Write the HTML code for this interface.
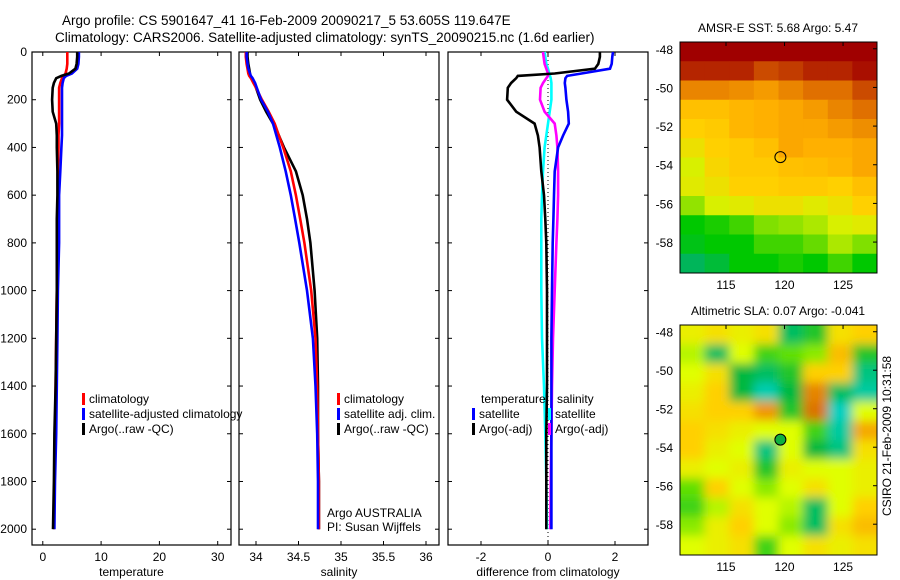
<!DOCTYPE html>
<html><head><meta charset="utf-8"><style>
body{margin:0;background:#fff;}
svg{display:block;font-family:"Liberation Sans",sans-serif;}
</style></head><body>
<svg id="chart" width="900" height="580">
<defs>
<clipPath id="c1"><rect x="680" y="42" width="197" height="231"/></clipPath>
<clipPath id="c2"><rect x="680" y="325" width="197" height="230"/></clipPath>
<filter id="blur"><feGaussianBlur stdDeviation="5"/></filter>
</defs>
<g font-size="13.5" fill="#000">
<text x="62" y="25">Argo profile: CS 5901647_41 16-Feb-2009 20090217_5 53.605S 119.647E</text>
<text x="55" y="42">Climatology: CARS2006. Satellite-adjusted climatology: synTS_20090215.nc (1.6d earlier)</text>
</g>
<g id="plots"></g>
</svg>
<script>
// depth levels (m)
const depths=[0,20,50,70,90,100,110,130,150,200,250,300,350,400,500,600,700,800,1000,1200,1400,1600,1800,2000];
// temperature
const tempArgo=[5.9,5.9,5.8,5.6,4.5,3.2,2.3,1.9,1.7,1.6,1.7,2.3,2.4,2.4,2.5,2.5,2.4,2.4,2.4,2.3,2.2,2.0,1.9,1.75];
const tempClim=[4.2,4.2,4.2,4.1,3.9,3.6,3.3,3.0,2.8,2.8,2.8,2.8,2.7,2.7,2.6,2.6,2.5,2.5,2.4,2.3,2.2,2.1,2.0,1.9];
const tempSat=[6.2,6.2,6.1,5.9,5.0,4.0,3.6,3.4,3.3,3.3,3.3,3.3,3.3,3.2,3.0,2.8,2.8,2.8,2.6,2.5,2.4,2.3,2.1,2.0];
// salinity
const salArgo=[33.9,33.9,33.91,33.92,33.93,33.93,33.95,33.98,34.0,34.05,34.12,34.2,34.27,34.33,34.47,34.55,34.6,34.64,34.69,34.72,34.73,34.73,34.74,34.74];
const salClim=[33.88,33.88,33.89,33.9,33.91,33.92,33.94,33.97,34.0,34.07,34.15,34.22,34.27,34.32,34.41,34.47,34.52,34.57,34.65,34.70,34.72,34.73,34.74,34.74];
const salSat=[33.89,33.89,33.9,33.91,33.93,33.94,33.96,33.99,34.01,34.06,34.14,34.2,34.24,34.28,34.35,34.41,34.46,34.51,34.6,34.67,34.70,34.72,34.73,34.73];
// differences from climatology
const dTempArgo=[1.55,1.55,1.5,1.4,0.2,-0.9,-0.95,-1.1,-1.2,-1.22,-0.95,-0.4,-0.3,-0.25,-0.2,-0.12,-0.08,-0.05,-0.03,-0.03,-0.03,-0.05,-0.05,-0.05];
const dTempSat=[1.94,1.92,1.9,1.85,1.0,0.57,0.52,0.5,0.52,0.55,0.6,0.62,0.45,0.3,0.2,0.18,0.16,0.14,0.12,0.1,0.1,0.1,0.1,0.1];
const dSalArgo=[-0.15,-0.13,-0.1,-0.05,0,0,-0.05,-0.15,-0.22,-0.24,-0.1,0.2,0.25,0.28,0.3,0.3,0.28,0.25,0.2,0.15,0.12,0.1,0.08,0.07];
const dSalSat=[-0.1,-0.08,-0.05,0,0.04,0.06,0.08,0.1,0.1,0.1,0.05,0,-0.05,-0.1,-0.15,-0.18,-0.2,-0.2,-0.2,-0.18,-0.12,-0.08,-0.05,-0.03];
// map grids
const sstGrid=[
[1,1,1,1,1,1,1,1],
[0.95,0.95,0.95,0.9,0.92,0.95,0.95,0.98],
[0.8,0.8,0.78,0.75,0.8,0.85,0.85,0.9],
[0.65,0.65,0.68,0.7,0.72,0.75,0.8,0.85],
[0.6,0.62,0.68,0.7,0.72,0.72,0.75,0.78],
[0.55,0.6,0.62,0.65,0.72,0.7,0.7,0.72],
[0.5,0.58,0.62,0.62,0.65,0.66,0.68,0.72],
[0.52,0.55,0.6,0.6,0.62,0.62,0.6,0.65],
[0.42,0.5,0.52,0.55,0.55,0.52,0.55,0.6],
[0.3,0.32,0.35,0.4,0.42,0.45,0.5,0.52],
[0.28,0.3,0.3,0.35,0.35,0.38,0.45,0.4],
[0.22,0.25,0.3,0.3,0.32,0.3,0.35,0.3]];
const slaGrid=[
[0.1,0.2,0.1,0.2,-0.7,-0.5,0.2,0.3],
[-0.1,-0.7,0.0,-0.4,-0.3,-0.2,0.4,-0.5],
[0.0,0.2,-0.6,-0.7,-0.5,0.3,0.3,-0.8],
[0.1,0.3,-0.6,-0.95,-0.6,0.7,-0.7,-0.9],
[0.2,0.3,0.3,0.6,-0.5,0.8,-1.0,0.0],
[0.3,0.2,0.1,0.0,0.0,-0.4,-0.9,0.5],
[0.3,0.1,0.0,-0.8,0.0,-0.6,-0.8,0.2],
[0.1,0.0,0.1,-0.5,0.1,0.0,0.0,0.1],
[-0.3,0.3,0.0,-0.2,0.0,0.2,0.0,0.1],
[-0.4,-0.1,0.2,0.0,-0.1,-0.7,0.0,0.3],
[-0.2,0.1,0.3,0.0,-0.2,-0.7,0.2,0.4],
[0.0,0.1,0.2,-0.4,0.0,0.2,0.1,0.2]];
const profLon=119.647, profLat=-53.605;
const yTicks=[0,200,400,600,800,1000,1200,1400,1600,1800,2000];
const latTicks=[-48,-50,-52,-54,-56,-58];
const lonTicks=[115,120,125];

const NS="http://www.w3.org/2000/svg";
const root=document.getElementById('plots');
function mk(tag,attrs,parent){const e=document.createElementNS(NS,tag);for(const k in attrs)e.setAttribute(k,attrs[k]);(parent||root).appendChild(e);return e;}
const TOP=52,BOT=545;
const yD=d=>TOP+d*0.2386;

const panels=[
 {x0:32,x1:231,vmin:-1.85,vmax:32.28,ticks:[0,10,20,30],tl:['0','10','20','30'],label:'temperature',name:'temperature-panel',yl:true,
  series:[[tempClim,'#ff0000','climatology-line'],[tempSat,'#0000ff','satellite-line'],[tempArgo,'#000000','argo-line']]},
 {x0:239,x1:439,vmin:33.8,vmax:36.153,ticks:[34,34.5,35,35.5,36],tl:['34','34.5','35','35.5','36'],label:'salinity',name:'salinity-panel',
  series:[[salArgo,'#000000','argo-line'],[salClim,'#ff0000','climatology-line'],[salSat,'#0000ff','satellite-line']]},
 {x0:448,x1:648,vmin:-2.985,vmax:2.985,ticks:[-2,0,2],tl:['-2','0','2'],label:'difference from climatology',name:'difference-panel',zero:true,
  series:[[dSalSat,'#00ffff','salinity-satellite-line'],[dSalArgo,'#ff00ff','salinity-argo-line'],[dTempSat,'#0000ff','temperature-satellite-line'],[dTempArgo,'#000000','temperature-argo-line']]}
];
panels.forEach(p=>{
 const g=mk('g',{});
 
 
 const sx=v=>p.x0+(v-p.vmin)/(p.vmax-p.vmin)*(p.x1-p.x0);
 const box=mk('rect',{x:p.x0,y:TOP,width:p.x1-p.x0,height:BOT-TOP,fill:'#fff',stroke:'#000','stroke-width':1.2},g);
 
 
 p.ticks.forEach((t,i)=>{
  const x=sx(t);
  mk('line',{x1:x,x2:x,y1:BOT,y2:BOT-4,stroke:'#000'},g);
  mk('line',{x1:x,x2:x,y1:TOP,y2:TOP+4,stroke:'#000'},g);
  const tx=mk('text',{x:x,y:BOT+16,'font-size':12,'text-anchor':'middle'},g);
  tx.textContent=p.tl[i];
  
  
 });
 yTicks.forEach(d=>{
  const y=yD(d);
  mk('line',{x1:p.x0,x2:p.x0+4,y1:y,y2:y,stroke:'#000'},g);
  mk('line',{x1:p.x1,x2:p.x1-4,y1:y,y2:y,stroke:'#000'},g);
  if(p.yl){const t=mk('text',{x:p.x0-5,y:y+4,'font-size':12,'text-anchor':'end'},g);t.textContent=d;
   
   }
 });
 const xl=mk('text',{x:(p.x0+p.x1)/2,y:BOT+31,'font-size':12,'text-anchor':'middle'},g);
 xl.textContent=p.label;
 
 
 if(p.zero){const z=mk('line',{x1:sx(0),x2:sx(0),y1:TOP,y2:BOT,stroke:'#000','stroke-dasharray':'1,3'},g);
  
  }
 p.series.forEach(s=>{
  let pts='';
  depths.forEach((d,i)=>{pts+=sx(s[0][i]).toFixed(1)+','+yD(d).toFixed(1)+' ';});
  const l=mk('polyline',{points:pts,fill:'none',stroke:s[1],'stroke-width':2.6},g);
  
  
 });
});
// legends
function legend(x,y,color,text,name){
 const g=mk('g',{});
 
 
 if(color) mk('rect',{x:x,y:y-10,width:3,height:12,fill:color},g);
 const t=mk('text',{x:x+7,y:y,'font-size':12},g);t.textContent=text;
}
legend(82,403,'#ff0000','climatology','legend-climatology');
legend(82,418,'#0000ff','satellite-adjusted climatology','legend-satellite');
legend(82,433,'#000000','Argo(..raw -QC)','legend-argo');
legend(337,403,'#ff0000','climatology','legend-climatology');
legend(337,418,'#0000ff','satellite adj. clim.','legend-satellite');
legend(337,433,'#000000','Argo(..raw -QC)','legend-argo');
legend(474,403,null,'temperature','legend-temperature-header');
legend(550,403,null,'salinity','legend-salinity-header');
legend(472,418,'#0000ff','satellite','legend-temp-satellite');
legend(472,433,'#000000','Argo(-adj)','legend-temp-argo');
legend(548,418,'#00ffff','satellite','legend-sal-satellite');
legend(548,433,'#ff00ff','Argo(-adj)','legend-sal-argo');
{const t=mk('text',{x:327,y:517,'font-size':12});t.textContent='Argo AUSTRALIA';
 
 
 const t2=mk('text',{x:327,y:531,'font-size':12});t2.textContent='PI: Susan Wijffels';
 
 }

// maps
const LON0=111.07,LON1=127.9,LAT0=-47.65,LAT1=-59.6;
function sstColor(v){
 const st=[[0,[0,96,255]],[0.1,[0,192,192]],[0.2,[0,176,112]],[0.3,[0,200,0]],[0.4,[128,224,0]],[0.5,[216,240,0]],[0.6,[255,208,0]],[0.7,[255,176,0]],[0.85,[224,112,0]],[1,[160,0,0]]];
 return interp(st,v);}
function slaColor(v){
 const st=[[-1,[0,208,192]],[-0.6,[0,184,64]],[-0.3,[96,224,0]],[0,[224,255,0]],[0.3,[255,208,0]],[0.6,[240,150,0]],[1,[200,80,0]]];
 return interp(st,v);}
function interp(st,v){
 for(let i=1;i<st.length;i++){if(v<=st[i][0]){const a=st[i-1],b=st[i],f=(v-a[0])/(b[0]-a[0]);
  return 'rgb('+a[1].map((c,k)=>Math.round(c+(b[1][k]-c)*f)).join(',')+')';}}
 return 'rgb('+st[st.length-1][1].join(',')+')';}
function drawMap(cfg){
 const g=mk('g',{});
 
 
 const W=197,H=cfg.h,sx=l=>680+(l-LON0)/(LON1-LON0)*W,sy=l=>cfg.y+(l-LAT0)/(LAT1-LAT0)*H;
 const cg=mk('g',{'clip-path':'url(#'+cfg.clip+')'},g);
 const inner=mk('g',cfg.blur?{filter:'url(#blur)'}:{},cg);
 const rows=cfg.grid.length,cols=cfg.grid[0].length;
 const pad=cfg.blur?1:0;
 for(let r=-pad;r<rows+pad;r++)for(let c=-pad;c<cols+pad;c++){
  const rr=Math.min(rows-1,Math.max(0,r)),cc=Math.min(cols-1,Math.max(0,c));
  const la0=LAT0+(LAT1-LAT0)*r/rows,la1=LAT0+(LAT1-LAT0)*(r+1)/rows;
  const lo0=LON0+(LON1-LON0)*c/cols,lo1=LON0+(LON1-LON0)*(c+1)/cols;
  const cell=mk('rect',{x:sx(lo0),y:sy(la0),width:sx(lo1)-sx(lo0)+0.6,height:sy(la1)-sy(la0)+0.6,fill:cfg.color(cfg.grid[rr][cc])},inner);
  
  
 }
 const fr=mk('rect',{x:680,y:cfg.y,width:W,height:H,fill:'none',stroke:'#000'},g);
 
 
 latTicks.forEach(l=>{const y=sy(l);
  mk('line',{x1:877,x2:873,y1:y,y2:y,stroke:'#000'},g);
  const t=mk('text',{x:673,y:y+5,'font-size':12,'text-anchor':'end'},g);t.textContent=l;
  
  });
 lonTicks.forEach(l=>{const x=sx(l);
  mk('line',{x1:x,x2:x,y1:cfg.y,y2:cfg.y+4,stroke:'#000'},g);
  const t=mk('text',{x:x,y:cfg.y+H+16,'font-size':12,'text-anchor':'middle'},g);t.textContent=l;
  
  });
 const mkr=mk('circle',{cx:sx(profLon),cy:sy(profLat),r:5.5,fill:cfg.dot,stroke:'#000','stroke-width':1},g);
 
 
 const tt=mk('text',{x:778,y:cfg.y-10,'font-size':12,'text-anchor':'middle'},g);tt.textContent=cfg.title;
 
 
}
drawMap({name:'sst-map',y:42,h:231,clip:'c1',grid:sstGrid,color:sstColor,dot:'none',title:'AMSR-E SST: 5.68 Argo: 5.47'});
drawMap({name:'sla-map',y:325,h:230,clip:'c2',grid:slaGrid,color:slaColor,dot:'#10b040',blur:true,title:'Altimetric SLA: 0.07 Argo: -0.041'});
{const t=mk('text',{x:0,y:0,'font-size':12,'text-anchor':'middle',transform:'translate(891,436) rotate(-90)'});
 t.textContent='CSIRO 21-Feb-2009 10:31:58';
 
 }
</script>
</body></html>
